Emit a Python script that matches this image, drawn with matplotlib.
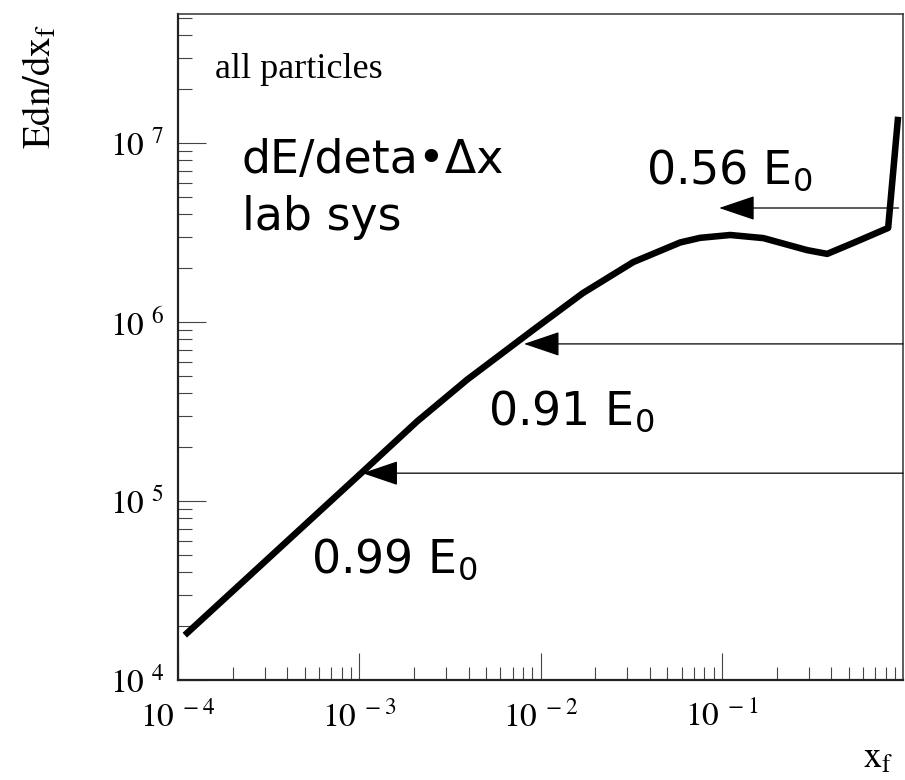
import numpy as np
import matplotlib
matplotlib.use('Agg')
import matplotlib.pyplot as plt
from matplotlib.ticker import LogLocator, NullFormatter, FuncFormatter

# energy flow vs x_f
xf = [1.09e-4, 1.0e-3, 2.08e-3, 3.93e-3, 9.08e-3, 1.71e-2, 3.24e-2, 5.88e-2,
      7.57e-2, 0.111, 0.169, 0.294, 0.380, 0.528, 0.824, 0.935]
edn = [1.78e4, 1.40e5, 2.78e5, 4.76e5, 9.02e5, 1.45e6, 2.16e6, 2.78e6,
       2.95e6, 3.06e6, 2.94e6, 2.52e6, 2.40e6, 2.76e6, 3.35e6, 1.40e7]

# arrows: label, y level, tip x, tail x
arrow_labels = ['0.56 E$_0$', '0.91 E$_0$', '0.99 E$_0$']
arrow_y = [4.33e6, 7.54e5, 1.43e5]
arrow_tip = [0.0964, 8.09e-3, 1.04e-3]
arrow_tail = [0.94, 0.995, 0.995]
label_pos = [(0.645, 0.746), (0.428, 0.384), (0.184, 0.162)]

plt.rcParams['mathtext.fontset'] = 'stix'
plt.rcParams['font.family'] = ['Liberation Serif', 'DejaVu Serif']

fig = plt.figure(figsize=(9.05, 7.8), dpi=100)
ax = fig.add_axes([178/905, 100/780, 725/905, 666/780])

ax.plot(xf, edn, color='black', lw=4.7, solid_capstyle='butt', solid_joinstyle='round')

for lab, y, tip, tail, pos in zip(arrow_labels, arrow_y, arrow_tip, arrow_tail, label_pos):
    ax.annotate('', xy=(tip, y), xytext=(tail, y),
                arrowprops=dict(arrowstyle='-|>,head_length=23,head_width=7.8',
                                mutation_scale=1, lw=0.9, color='black',
                                shrinkA=0, shrinkB=0))
    ax.text(pos[0], pos[1], lab, transform=ax.transAxes, fontsize=33,
            family='DejaVu Sans', math_fontfamily='dejavusans', va='baseline')

ax.text(0.051, 0.904, 'all particles', transform=ax.transAxes, fontsize=26,
        va='baseline')
ax.text(0.088, 0.761, 'dE/deta\u2022\u0394x', transform=ax.transAxes, fontsize=33,
        family='DejaVu Sans', va='baseline')
ax.text(0.088, 0.676, 'lab sys', transform=ax.transAxes, fontsize=33,
        family='DejaVu Sans', va='baseline')

ax.set_xscale('log')
ax.set_yscale('log')
ax.set_xlim(1e-4, 0.995)
ax.set_ylim(1e4, 5.25e7)

for a in (ax.xaxis, ax.yaxis):
    a.set_major_locator(LogLocator(base=10, numticks=20))
    a.set_minor_locator(LogLocator(base=10, subs=np.arange(2, 10), numticks=100))
    a.set_minor_formatter(NullFormatter())
ax.xaxis.set_major_formatter(FuncFormatter(lambda v, p: r'$10^{\,\,%d}$' % int(round(np.log10(v)))))
ax.yaxis.set_major_formatter(FuncFormatter(lambda v, p: r'$10^{\;\,%d}$' % int(round(np.log10(v)))))

ax.tick_params(which='both', direction='in', top=False, right=False,
               labelsize=24, color='#444444', width=0.8)
ax.tick_params(axis='y', which='major', length=20, pad=10)
ax.tick_params(axis='y', which='minor', length=10)
ax.tick_params(axis='x', which='major', length=19.5, pad=15)
ax.tick_params(axis='x', which='minor', length=9.5)

for s in ['left', 'bottom']:
    ax.spines[s].set_linewidth(1.6)
    ax.spines[s].set_color('#222222')
for s in ['top', 'right']:
    ax.spines[s].set_linewidth(1.1)
    ax.spines[s].set_color('#333333')

ax.set_ylabel(r'$\mathrm{Edn/dx_f}$', fontsize=28, loc='top')
ax.yaxis.set_label_coords(-0.163, 0.985)
ax.set_xlabel(r'$\mathrm{x_f}$', fontsize=26, loc='right')
ax.xaxis.set_label_coords(0.986, -0.094)

fig.savefig('out.png', dpi=100)
